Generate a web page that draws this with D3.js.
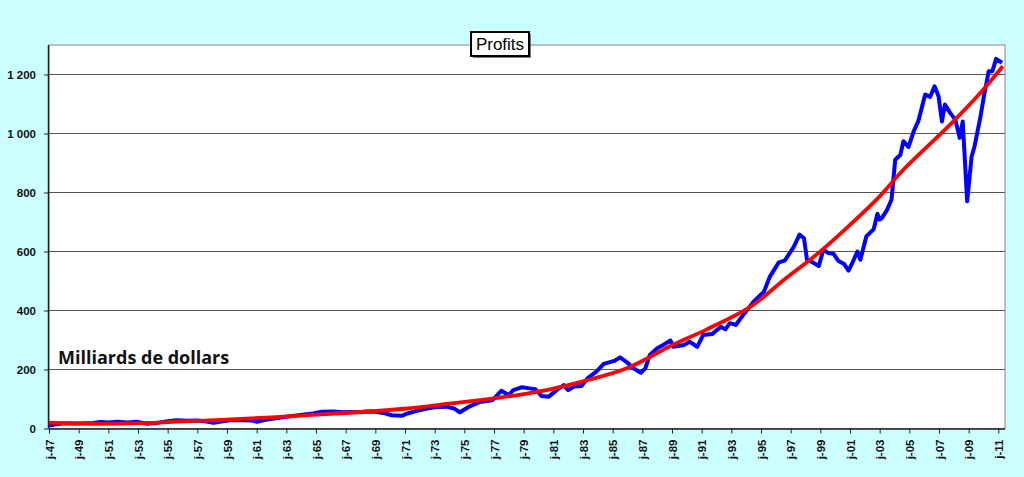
<!DOCTYPE html>
<html>
<head>
<meta charset="utf-8">
<script src="https://cdn.jsdelivr.net/npm/d3@7"></script>
<style>
  body { margin: 0; background: #ccffff; }
  svg { display: block; }
</style>
</head>
<body>
<svg id="chart" width="1024" height="477"></svg>
<script>
// profits (milliards de dollars)
const years = [1947.0, 1947.5, 1948.0, 1949.0, 1950.0, 1950.5, 1951.0, 1951.6, 1952.3, 1952.9,
  1953.6, 1954.3, 1955.0, 1955.6, 1956.3, 1957.0, 1957.6, 1958.1, 1958.8, 1959.4,
  1960.0, 1960.7, 1961.0, 1961.7, 1962.3, 1963.0, 1963.8, 1964.8, 1965.4, 1966.2,
  1966.8, 1967.3, 1967.8, 1968.5, 1969.0, 1969.6, 1970.1, 1970.8, 1971.1, 1971.8,
  1972.5, 1973.0, 1973.8, 1974.3, 1974.7, 1975.4, 1976.1, 1976.9, 1977.5, 1978.0,
  1978.3, 1978.9, 1979.4, 1979.8, 1980.2, 1980.7, 1981.3, 1981.7, 1982.0, 1982.4,
  1982.9, 1983.3, 1983.9, 1984.4, 1985.1, 1985.5, 1986.0, 1986.4, 1986.9, 1987.2,
  1987.5, 1988.0, 1988.4, 1988.9, 1989.1, 1989.8, 1990.2, 1990.7, 1991.1, 1991.7,
  1992.3, 1992.6, 1992.9, 1993.3, 1993.8, 1994.5, 1995.2, 1995.6, 1996.2, 1996.6,
  1997.2, 1997.6, 1997.9, 1998.1, 1998.5, 1998.9, 1999.2, 1999.55, 1999.9, 2000.2,
  2000.6, 2000.9, 2001.2, 2001.5, 2001.7, 2002.1, 2002.6, 2002.85, 2003.0, 2003.15,
  2003.5, 2003.8, 2004.05, 2004.4, 2004.6, 2004.94, 2005.3, 2005.6, 2006.07, 2006.4,
  2006.7, 2006.97, 2007.2, 2007.4, 2007.75, 2008.1, 2008.4, 2008.6, 2008.9, 2009.2,
  2009.4, 2009.8, 2010.05, 2010.35, 2010.6, 2010.85, 2011.25]
const profits = [10, 14, 18, 17, 19, 22, 20, 23, 20, 23,
  16, 19, 25, 28, 26, 27, 24, 19, 25, 29,
  28, 27, 23, 30, 35, 40, 45, 51, 57, 58,
  55, 56, 55, 58, 57, 52, 45, 43, 50, 60,
  68, 72, 74, 68, 55, 76, 91, 96, 128, 113,
  130, 140, 136, 133, 110, 108, 133, 147, 130, 142,
  144, 170, 193, 219, 229, 241, 223, 204, 189, 204,
  249, 272, 283, 298, 277, 283, 294, 277, 317, 320,
  345, 336, 357, 351, 385, 430, 464, 515, 563, 569,
  615, 657, 645, 572, 563, 551, 606, 595, 592, 569,
  558, 535, 566, 600, 572, 651, 676, 728, 708, 713,
  741, 776, 911, 928, 974, 954, 1008, 1041, 1132, 1124,
  1160, 1126, 1041, 1098, 1070, 1047, 985, 1041, 770, 922,
  957, 1058, 1132, 1211, 1211, 1253, 1240]

// tendance (courbe rouge)
const trendYears = [1947, 1950, 1953, 1956, 1959, 1962, 1965, 1968, 1971, 1974, 1977, 1980,
  1983, 1986, 1989, 1991.35, 1994.3, 1996.6, 1999, 2001, 2003, 2004.6, 2007.75, 2009.8, 2011.3]
const trendValues = [20, 16, 18, 24, 30, 38, 47, 56, 67, 84, 102, 125,
  160, 205, 282, 336, 413, 506, 600, 690, 787, 877, 1030, 1138, 1228]

const yTicks = [0, 200, 400, 600, 800, 1000, 1200]
const xTickYears = d3.range(1947, 2012, 2)
const title = 'Profits'
const unitLabel = 'Milliards de dollars'

const svg = d3.select('#chart')
const plotLeft = 49, plotRight = 1005, plotTop = 45, plotBottom = 428.5

const x = d3.scaleLinear().domain([1947, 2011.45]).range([plotLeft, plotRight])
const y = d3.scaleLinear().domain([0, 1300]).range([plotBottom, plotTop])

/* zone de tracé */
svg.append('rect')
  .attr('x', plotLeft).attr('y', plotTop)
  .attr('width', plotRight - plotLeft).attr('height', plotBottom - plotTop)
  .attr('fill', '#fff')
  .attr('stroke', '#9a9a9a').attr('stroke-width', 1.2)

/* grille horizontale */
svg.append('g')
  .selectAll('line')
  .data(yTicks.filter(d => d > 0))
  .join('line')
  .attr('x1', plotLeft).attr('x2', plotRight)
  .attr('y1', d => y(d)).attr('y2', d => y(d))
  .attr('stroke', '#555').attr('stroke-width', 1.2)

/* axe y */
const yAxis = d3.axisLeft(y)
  .tickValues(yTicks)
  .tickSize(5)
  .tickPadding(8)
  .tickFormat(d => d3.format(',')(d).replace(/,/g, ' '))
svg.append('g')
  .attr('transform', `translate(${plotLeft},0)`)
  .call(yAxis)
  .call(g => g.select('.domain').attr('d', `M-0.5,${plotTop}V${plotBottom}`).attr('stroke', '#222').attr('stroke-width', 1.5))
  .call(g => g.selectAll('.tick line').attr('stroke', '#222'))
  .call(g => g.selectAll('text')
    .attr('font-family', 'Arial, "Liberation Sans", sans-serif')
    .attr('font-size', 11.5).attr('font-weight', 'bold').attr('fill', '#111'))

/* axe x */
const xAxis = d3.axisBottom(x)
  .tickValues(xTickYears)
  .tickSize(5)
  .tickFormat(d => 'j-' + String(d).slice(2))
svg.append('g')
  .attr('transform', `translate(0,${plotBottom})`)
  .call(xAxis)
  .call(g => g.select('.domain').attr('d', `M${plotLeft},0.5H${plotRight}`).attr('stroke', '#222').attr('stroke-width', 1.5))
  .call(g => g.selectAll('.tick line').attr('stroke', '#222'))
  .call(g => g.selectAll('text')
    .attr('font-family', 'Arial, "Liberation Sans", sans-serif')
    .attr('font-size', 11.5).attr('font-weight', 'bold').attr('fill', '#111')
    .attr('transform', 'rotate(-90)')
    .attr('text-anchor', 'end')
    .attr('x', -11).attr('y', 0).attr('dy', '0.35em'))

/* courbes */
const profitLine = d3.line()
  .x((d, i) => x(years[i]))
  .y(d => y(d))
svg.append('path')
  .datum(profits)
  .attr('d', profitLine)
  .attr('fill', 'none')
  .attr('stroke', '#0000ff')
  .attr('stroke-width', 4)
  .attr('stroke-linejoin', 'round')

const trendLine = d3.line()
  .x((d, i) => x(trendYears[i]))
  .y(d => y(d))
  .curve(d3.curveCatmullRom)
svg.append('path')
  .datum(trendValues)
  .attr('d', trendLine)
  .attr('fill', 'none')
  .attr('stroke', '#ff0000')
  .attr('stroke-width', 3.8)

/* libellé unités */
svg.append('text')
  .attr('x', 58).attr('y', 364)
  .attr('font-family', '"Open Sans", sans-serif')
  .attr('font-weight', 'bold')
  .attr('font-size', 18)
  .attr('fill', '#111')
  .text(unitLabel)

/* titre en boîte */
const tg = svg.append('g')
tg.append('rect')
  .attr('x', 473).attr('y', 34).attr('width', 58).attr('height', 24)
  .attr('fill', '#444').attr('opacity', 0.7)
tg.append('rect')
  .attr('x', 471).attr('y', 32).attr('width', 58).attr('height', 24)
  .attr('fill', '#fff').attr('stroke', '#000').attr('stroke-width', 2)
tg.append('text')
  .attr('x', 500).attr('y', 50)
  .attr('text-anchor', 'middle')
  .attr('font-family', 'Arial, "Liberation Sans", sans-serif')
  .attr('font-size', 17)
  .attr('fill', '#000')
  .text(title)
</script>
</body>
</html>
